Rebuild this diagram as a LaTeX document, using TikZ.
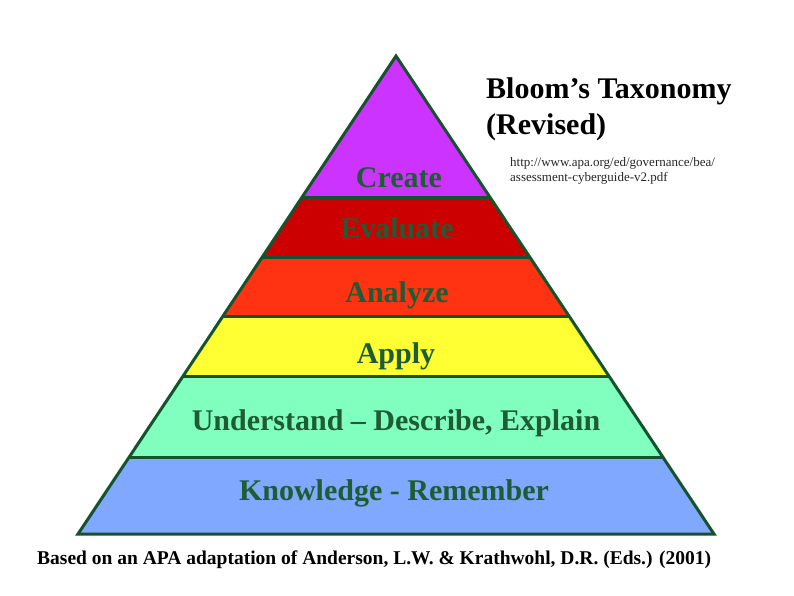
\documentclass[tikz,border=0pt]{standalone}
\usepackage{fontspec}
\setmainfont{Liberation Serif}
\usetikzlibrary{calc}
\definecolor{edgegreen}{HTML}{14532D}
\definecolor{textgreen}{HTML}{1E5C33}
\definecolor{cCreate}{HTML}{CC33FF}
\definecolor{cEvaluate}{HTML}{CC0000}
\definecolor{cAnalyze}{HTML}{FF3311}
\definecolor{cApply}{HTML}{FFFF33}
\definecolor{cUnderstand}{HTML}{80FFBF}
\definecolor{cKnowledge}{HTML}{80A8FF}
\tikzset{
  band/.style={draw=none},
  edge/.style={draw=edgegreen, line width=3pt, line join=miter},
  level/.style={anchor=base, text=textgreen, font=\fontsize{30}{36}\selectfont\bfseries, inner sep=0pt},
  title/.style={anchor=base west, text=black, font=\fontsize{30}{36}\selectfont\bfseries, inner sep=0pt},
  url/.style={anchor=base west, text=black!85, font=\fontsize{13}{16}\selectfont, inner sep=0pt},
  caption/.style={anchor=base west, text=black, font=\fontsize{19.5}{24}\selectfont\bfseries, inner sep=0pt}
}
\begin{document}
\begin{tikzpicture}[x=1pt,y=-1pt]
\useasboundingbox[fill=white] (0,0) rectangle (794,596);
\coordinate (A) at (396,56);
\coordinate (BL) at (78,534);
\coordinate (BR) at (714,534);
\coordinate (L1) at ($(A)!0.29498!(BL)$); \coordinate (R1) at ($(A)!0.29498!(BR)$);
\coordinate (L2) at ($(A)!0.42050!(BL)$); \coordinate (R2) at ($(A)!0.42050!(BR)$);
\coordinate (L3) at ($(A)!0.54393!(BL)$); \coordinate (R3) at ($(A)!0.54393!(BR)$);
\coordinate (L4) at ($(A)!0.66946!(BL)$); \coordinate (R4) at ($(A)!0.66946!(BR)$);
\coordinate (L5) at ($(A)!0.83891!(BL)$); \coordinate (R5) at ($(A)!0.83891!(BR)$);
% bands
\fill[band, cCreate] (A) -- (R1) -- (L1) -- cycle;
\fill[band, cEvaluate] (L1) -- (R1) -- (R2) -- (L2) -- cycle;
\fill[band, cAnalyze] (L2) -- (R2) -- (R3) -- (L3) -- cycle;
\fill[band, cApply] (L3) -- (R3) -- (R4) -- (L4) -- cycle;
\fill[band, cUnderstand] (L4) -- (R4) -- (R5) -- (L5) -- cycle;
\fill[band, cKnowledge] (L5) -- (R5) -- (BR) -- (BL) -- cycle;
% dividers and outline
\draw[edge] (L1) -- (R1);
\draw[edge] (L2) -- (R2);
\draw[edge] (L3) -- (R3);
\draw[edge] (L4) -- (R4);
\draw[edge] (L5) -- (R5);
\draw[edge] (A) -- (BR) -- (BL) -- cycle;
% labels
\node[level] (create) at (399,187) {Create};
\node[level] (evaluate) at (397,238) {Evaluate};
\node[level] (analyze) at (397,302) {Analyze};
\node[level] (apply) at (396,363) {Apply};
\node[level] (understand) at (396,430) {Understand – Describe, Explain};
\node[level] (knowledge) at (394,500) {Knowledge - Remember};
% title
\node[title] (t1) at (486,99) {Bloom’s Taxonomy};
\node[title] (t2) at (486,135) {(Revised)};
\node[url] (u1) at (510,167) {http://www.apa.org/ed/governance/bea/};
\node[url] (u2) at (510,181) {assessment-cyberguide-v2.pdf};
% caption
\node[caption] (cap) at (37,564) {Based on an APA adaptation of Anderson, L.W. \& Krathwohl, D.R. (Eds.) (2001)};
\end{tikzpicture}
\end{document}
